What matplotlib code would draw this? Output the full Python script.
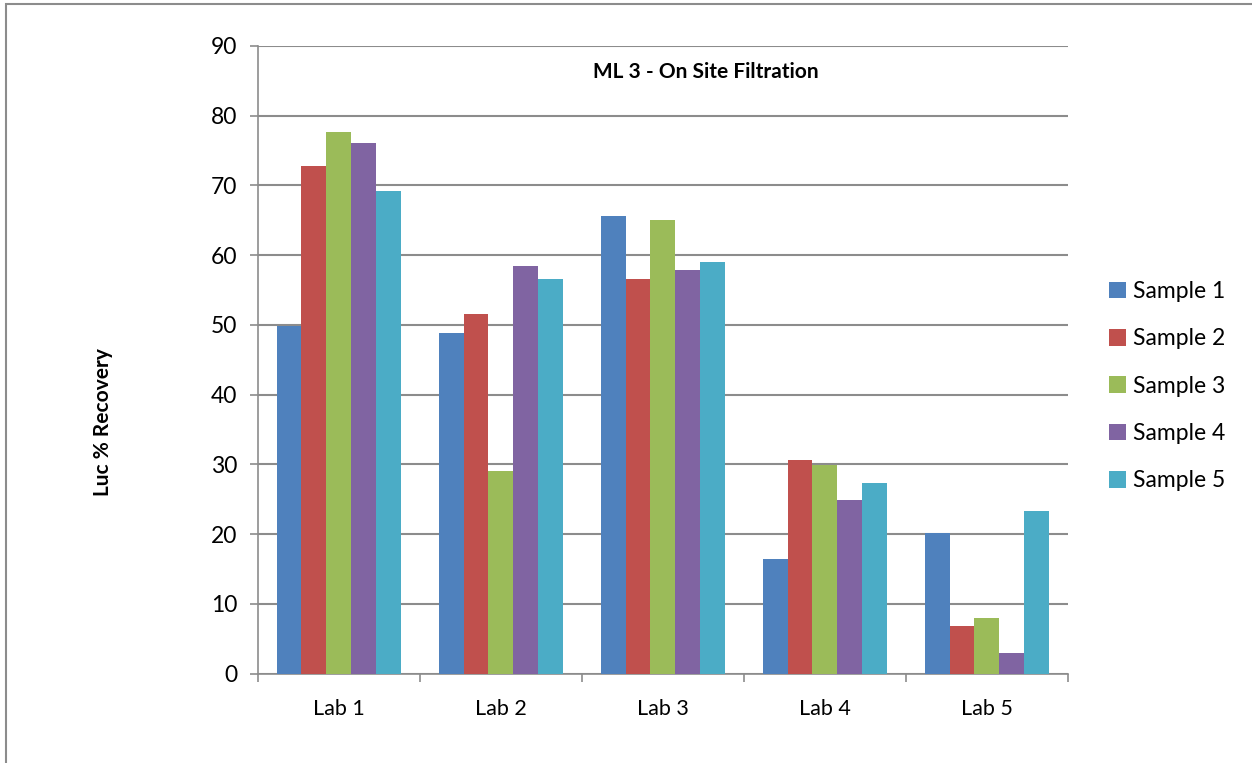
import matplotlib.pyplot as plt
import numpy as np
from matplotlib.patches import Rectangle

labs = ["Lab 1", "Lab 2", "Lab 3", "Lab 4", "Lab 5"]
series = ["Sample 1", "Sample 2", "Sample 3", "Sample 4", "Sample 5"]
sample1 = [49.9, 48.8, 65.6, 16.5, 20.1]
sample2 = [72.8, 51.6, 56.6, 30.7, 6.9]
sample3 = [77.7, 29.1, 65.0, 29.9, 8.0]
sample4 = [76.1, 58.5, 57.9, 24.9, 3.0]
sample5 = [69.2, 56.6, 59.0, 27.4, 23.3]
colors = ["#4F81BD", "#C0504D", "#9BBB59", "#8064A2", "#4BACC6"]

plt.rcParams['font.family'] = ['Lato', 'DejaVu Sans']

fig = plt.figure(figsize=(12.52, 7.63), dpi=100)
ax = fig.add_axes([0.206, 0.117, 0.647, 0.823])

x = np.arange(len(labs))
w = 0.154
for i, vals in enumerate([sample1, sample2, sample3, sample4, sample5]):
    ax.bar(x + (i - 2) * w, vals, w, color=colors[i], label=series[i], zorder=3)

ax.set_xlim(-0.5, 4.5)
ax.set_ylim(0, 90)
ax.set_yticks(range(0, 91, 10))
ax.yaxis.grid(True, color="#8c8c8c", linewidth=1.5, zorder=0)

ax.set_xticks(np.arange(-0.5, 5, 1))
ax.set_xticklabels([])
ax.set_xticks(x, minor=True)
ax.set_xticklabels(labs, minor=True)
ax.tick_params(axis="x", which="minor", length=0, pad=18, labelsize=15.5)
ax.tick_params(axis="x", which="major", length=6, color="#8c8c8c", width=1.2)
ax.tick_params(axis="y", length=6, color="#8c8c8c", width=1.2, labelsize=16.5, pad=9)

for s in ["top", "right"]:
    ax.spines[s].set_visible(False)
for s in ["left", "bottom"]:
    ax.spines[s].set_color("#8c8c8c")
    ax.spines[s].set_linewidth(1.2)

ax.text(0.553, 0.958, "ML 3 - On Site Filtration", transform=ax.transAxes,
        ha="center", va="center", fontsize=15, fontweight="bold")

fig.text(0.082, 0.447, "Luc % Recovery", rotation=90, ha="center", va="center",
         fontsize=15, fontweight="bold")

ax.legend(loc="center left", bbox_to_anchor=(1.025, 0.458), frameon=False,
          fontsize=16.5, handlelength=0.75, handleheight=0.75, labelspacing=1.15,
          handletextpad=0.3)

fig.patches.append(Rectangle((0.005, -0.1), 1.2, 1.095, transform=fig.transFigure,
                             fill=False, edgecolor="#8c8c8c", linewidth=1.5))

fig.savefig("out.png", dpi=100)
